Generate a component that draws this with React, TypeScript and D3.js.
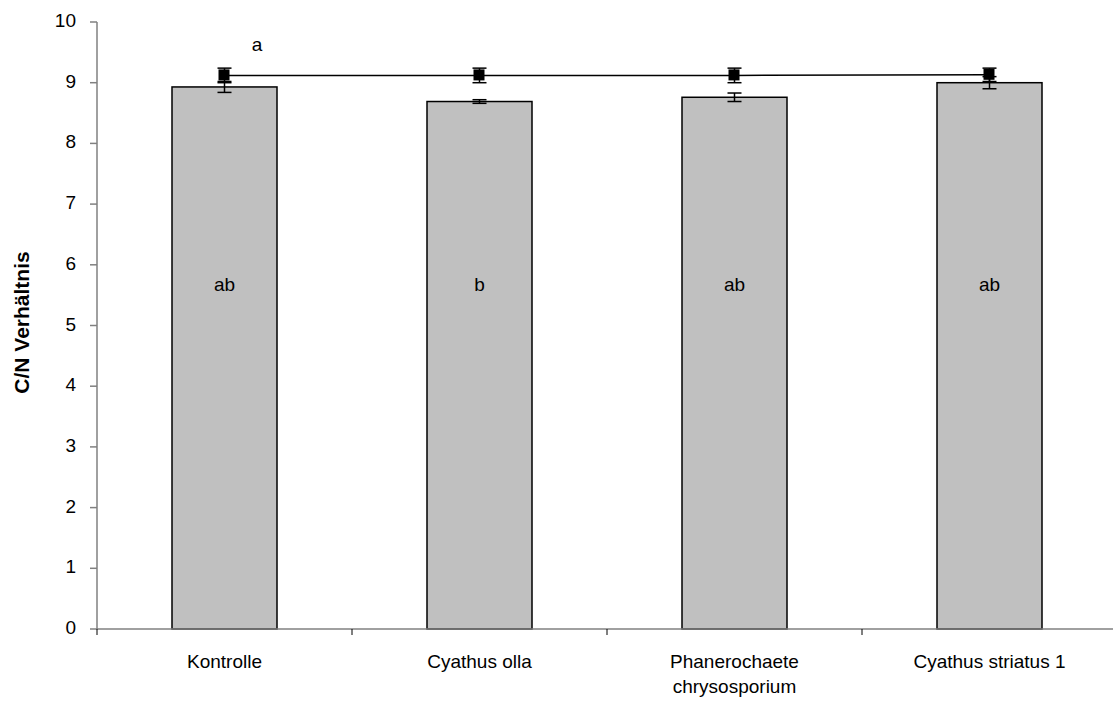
import React from "react";
import * as d3 from "d3";

const categories = ["Kontrolle", "Cyathus olla", "Phanerochaete\nchrysosporium", "Cyathus striatus 1"];
const barValues = [8.93, 8.69, 8.76, 9.0];
const barErrors = [0.09, 0.03, 0.07, 0.1];
const barLabels = ["ab", "b", "ab", "ab"];
const lineValues = [9.12, 9.12, 9.12, 9.13];
const lineErrors = [0.12, 0.12, 0.12, 0.11];
const yTicks = [0, 1, 2, 3, 4, 5, 6, 7, 8, 9, 10];
const lineLabel = "a";
const yTitle = "C/N Verhältnis";

export default function App() {
  const W = 1113, H = 706;
  const left = 97, top = 22, bottom = 629;
  const catW = 255;
  const x = d3.scaleBand<string>().domain(categories).range([left, left + catW * categories.length]).paddingInner(0).paddingOuter(0);
  const y = d3.scaleLinear().domain([0, 10]).range([bottom, top]);
  const bw = 105;
  const cx = (i: number) => (x(categories[i]) as number) + x.bandwidth() / 2;
  const font = "Liberation Sans, Arial, sans-serif";
  const lineGen = d3.line<number>().x((_, i) => cx(i)).y((d) => y(d));
  const cap = 7;
  const fs = 19;

  return (
    <svg width={W} height={H} style={{ position: "absolute", left: 0, top: 0 }} fontFamily={font}>
      {barValues.map((v, i) => (
        <rect key={"b" + i} x={cx(i) - bw / 2} y={y(v)} width={bw} height={y(0) - y(v)} fill="#c0c0c0" stroke="#000" strokeWidth={1.5} />
      ))}
      {barValues.map((v, i) => (
        <g key={"be" + i} stroke="#000" strokeWidth={1.5}>
          <line x1={cx(i)} x2={cx(i)} y1={y(v - barErrors[i])} y2={y(v + barErrors[i])} />
          <line x1={cx(i) - cap} x2={cx(i) + cap} y1={y(v - barErrors[i])} y2={y(v - barErrors[i])} />
          <line x1={cx(i) - cap} x2={cx(i) + cap} y1={y(v + barErrors[i])} y2={y(v + barErrors[i])} />
        </g>
      ))}
      {barLabels.map((t, i) => (
        <text key={"bl" + i} x={cx(i)} y={y(5.65)} textAnchor="middle" dominantBaseline="middle" fontSize={fs}>{t}</text>
      ))}
      <path d={lineGen(lineValues) || ""} fill="none" stroke="#000" strokeWidth={1.5} />
      {lineValues.map((v, i) => (
        <g key={"le" + i} stroke="#000" strokeWidth={1.5}>
          <line x1={cx(i)} x2={cx(i)} y1={y(v - lineErrors[i])} y2={y(v + lineErrors[i])} />
          <line x1={cx(i) - cap} x2={cx(i) + cap} y1={y(v - lineErrors[i])} y2={y(v - lineErrors[i])} />
          <line x1={cx(i) - cap} x2={cx(i) + cap} y1={y(v + lineErrors[i])} y2={y(v + lineErrors[i])} />
        </g>
      ))}
      {lineValues.map((v, i) => (
        <rect key={"m" + i} x={cx(i) - 6} y={y(v) - 6} width={11} height={11} fill="#000" />
      ))}
      <text x={257} y={46} textAnchor="middle" dominantBaseline="middle" fontSize={fs}>{lineLabel}</text>
      <line x1={left} x2={left} y1={top} y2={bottom} stroke="#808080" strokeWidth={1.5} />
      {yTicks.map((t) => (
        <g key={"yt" + t}>
          <line x1={left - 7} x2={left} y1={y(t)} y2={y(t)} stroke="#808080" strokeWidth={1.5} />
          <text x={left - 21} y={y(t)} textAnchor="end" dominantBaseline="middle" fontSize={fs}>{t}</text>
        </g>
      ))}
      <line x1={left} x2={left + catW * categories.length} y1={bottom} y2={bottom} stroke="#808080" strokeWidth={1.5} />
      {d3.range(categories.length + 1).map((i) => (
        <line key={"xt" + i} x1={left + catW * i} x2={left + catW * i} y1={bottom} y2={bottom + 6} stroke="#000" strokeWidth={1} />
      ))}
      {categories.map((c, i) => (
        <text key={"xl" + i} x={cx(i)} y={663} textAnchor="middle" dominantBaseline="middle" fontSize={fs}>
          {c.split("\n").map((l, j) => (
            <tspan key={j} x={cx(i)} dy={j === 0 ? 0 : 25}>{l}</tspan>
          ))}
        </text>
      ))}
      <text transform={`translate(23,${(top + bottom) / 2 - 3}) rotate(-90)`} textAnchor="middle" dominantBaseline="middle" fontSize={21} fontWeight="bold">{yTitle}</text>
    </svg>
  );
}
